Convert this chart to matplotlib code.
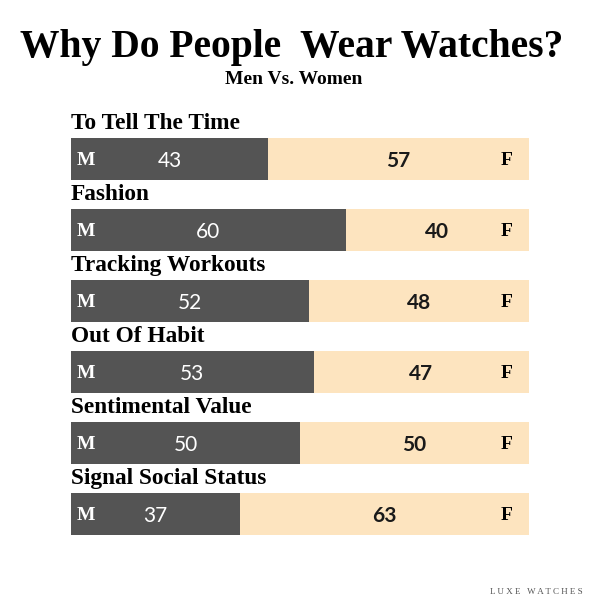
import matplotlib.pyplot as plt

reasons = ["To Tell The Time", "Fashion", "Tracking Workouts",
           "Out Of Habit", "Sentimental Value", "Signal Social Status"]
men = [43, 60, 52, 53, 50, 37]
women = [57, 40, 48, 47, 50, 63]

dark = "#545454"
beige = "#fde4bf"
serif = "Liberation Serif"

fig = plt.figure(figsize=(6, 6), dpi=100)
fig.patch.set_facecolor("white")

# axes over the bar area, rows spaced evenly
ax = fig.add_axes([71 / 600, 0.025, 458 / 600, 497 / 600])
ax.set_xlim(0, 100)
ax.set_ylim(6, -1)
ax.axis("off")

rows = list(range(len(reasons)))
ax.barh(rows, men, height=0.58, color=dark)
ax.barh(rows, women, left=men, height=0.58, color=beige)

for i, (r, m, w) in enumerate(zip(reasons, men, women)):
    ax.text(0, i - 0.5, r, ha="left", va="center", fontsize=16.8,
            fontweight="bold", family=serif, color="black")
    ax.text(1.3, i + 0.02, "M", ha="left", va="center", fontsize=14,
            fontweight="bold", family=serif, color="white")
    ax.text(m / 2, i + 0.03, str(m), ha="center", va="center", fontsize=15,
            family="Lato", color="white")
    ax.text(m + w / 2, i + 0.03, str(w), ha="center", va="center", fontsize=15,
            fontweight="bold", family="Lato", color="#1a1a1a")
    ax.text(95, i + 0.02, "F", ha="center", va="center", fontsize=14,
            fontweight="bold", family=serif, color="black")

fig.text(292 / 600, 1 - 47 / 600, "Why Do People  Wear Watches?", ha="center",
         va="center", fontsize=28.5, fontweight="bold", family=serif)
fig.text(294 / 600, 1 - 80 / 600, "Men Vs. Women", ha="center", va="center",
         fontsize=14, fontweight="bold", family=serif)
fig.text(583 / 600, 1 - 592 / 600, "L U X E   W A T C H E S", ha="right",
         va="center", fontsize=6.5, family=serif, color="#555555")

fig.savefig("out.png", dpi=100)
